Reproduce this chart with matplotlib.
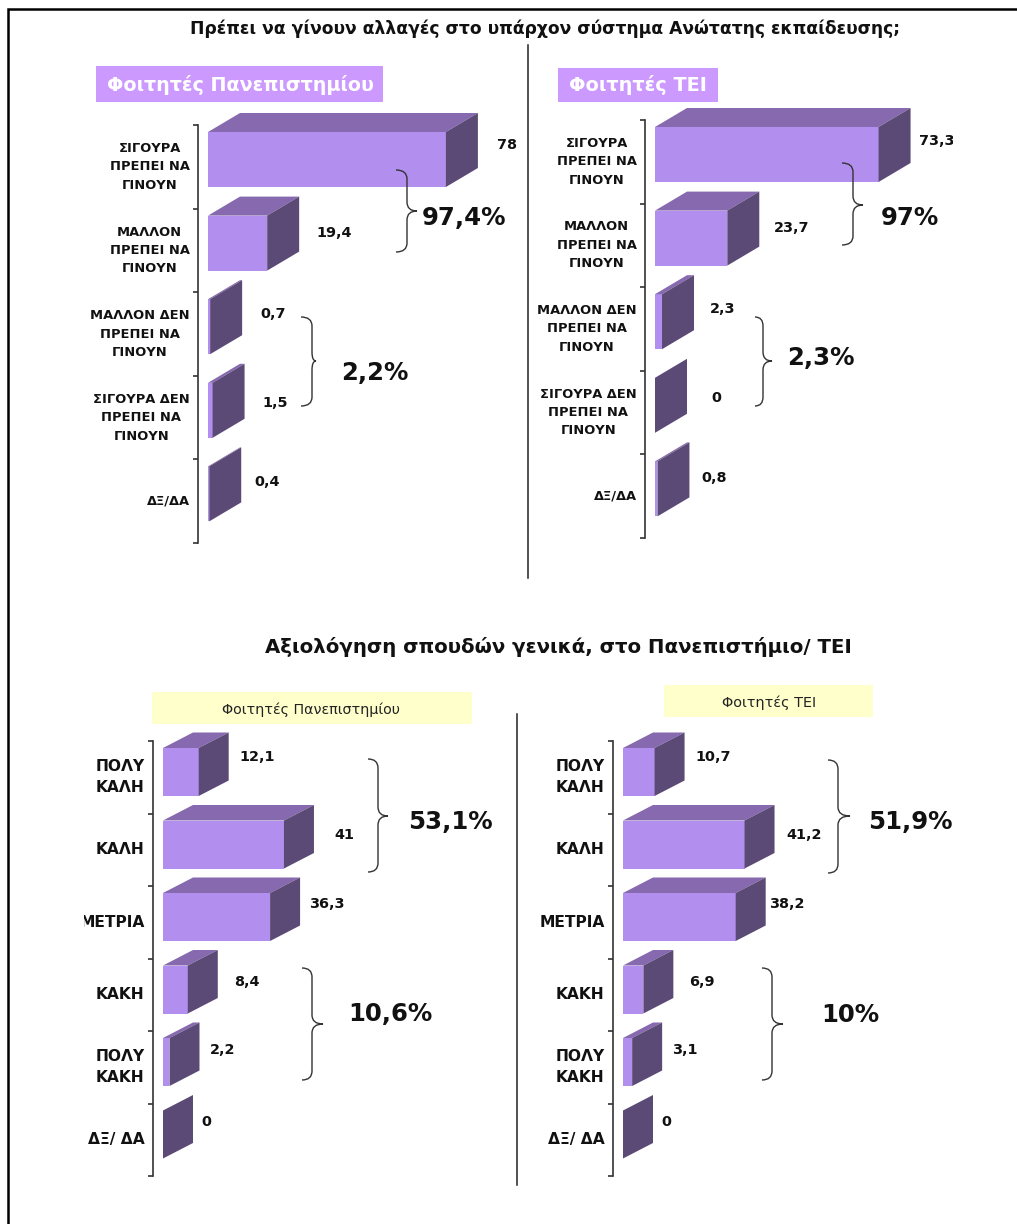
import matplotlib
matplotlib.use("Agg")
import matplotlib.pyplot as plt
from matplotlib.patches import PathPatch, Rectangle
from matplotlib.path import Path
from matplotlib.transforms import Bbox

plt.rcParams["font.family"] = ["DejaVu Sans"]

W, H = 1017, 1224

# STEP 1: data
cats_top_uni = ["ΣΙΓΟΥΡΑ\nΠΡΕΠΕΙ ΝΑ\nΓΙΝΟΥΝ", "ΜΑΛΛΟΝ\nΠΡΕΠΕΙ ΝΑ\nΓΙΝΟΥΝ", "ΜΑΛΛΟΝ ΔΕΝ\nΠΡΕΠΕΙ ΝΑ\nΓΙΝΟΥΝ",
                "ΣΙΓΟΥΡΑ ΔΕΝ\nΠΡΕΠΕΙ ΝΑ\nΓΙΝΟΥΝ", "ΔΞ/ΔΑ"]
cats_bottom = ["ΠΟΛΥ\nΚΑΛΗ", "ΚΑΛΗ", "ΜΕΤΡΙΑ", "ΚΑΚΗ", "ΠΟΛΥ\nΚΑΚΗ", "ΔΞ/ ΔΑ"]

vals_uni_top = [78, 19.4, 0.7, 1.5, 0.4]
vals_tei_top = [73.3, 23.7, 2.3, 0, 0.8]
vals_uni_bottom = [12.1, 41, 36.3, 8.4, 2.2, 0]
vals_tei_bottom = [10.7, 41.2, 38.2, 6.9, 3.1, 0]

title_top = "Πρέπει να γίνουν αλλαγές στο υπάρχον σύστημα Ανώτατης εκπαίδευσης;"
title_bottom = "Αξιολόγηση σπουδών γενικά, στο Πανεπιστήμιο/ ΤΕΙ"
header_uni = "Φοιτητές Πανεπιστημίου"
header_tei = "Φοιτητές ΤΕΙ"

FRONT = "#B28FEE"
TOP = "#8669AF"
SIDE = "#5B4A75"


# STEP 2: one axes per panel, placed in pixels
def panel(spine_x, top_y, bottom_y, scale, xmax, vals, cats, depth, font, spacing, label_pos, clip_x=None):
    offset = 10
    width = offset + scale * xmax
    ax = fig.add_axes([spine_x / W, 1 - bottom_y / H, width / W, (bottom_y - top_y) / H])
    ax.patch.set_visible(False)
    ax.set_xlim(-offset / scale, xmax)
    n = len(vals)
    ax.set_ylim(n, 0)
    for s in ["top", "right", "bottom"]:
        ax.spines[s].set_visible(False)
    ax.spines["left"].set_linewidth(1.2)
    ax.spines["left"].set_color("#333333")
    ax.xaxis.set_visible(False)

    ax.set_yticks(range(n + 1))
    ax.set_yticklabels([])
    ax.tick_params(axis="y", which="major", length=3.8, width=1.2, direction="out", color="#333333")
    ax.set_yticks([i + 0.5 for i in range(n)], minor=True)
    ax.set_yticklabels(cats, minor=True, fontsize=font, fontweight="bold", color="#111111",
                       multialignment="center", linespacing=spacing, va="center")
    ax.tick_params(axis="y", which="minor", length=0, pad=6)
    if clip_x is not None:
        for lab in ax.get_yticklabels(minor=True):
            lab.set_clip_box(Bbox([[clip_x, 0], [W, H]]))
            lab.set_clip_on(True)

    # 3D look: front from barh, top and side shifted by a fixed depth
    px_cat = (bottom_y - top_y) / n
    dx = depth[0] / scale
    dy = depth[1] / px_cat
    gap = 7 / px_cat
    bar_h = depth[2] / px_cat
    for i, v in enumerate(vals):
        y0 = i + gap
        y1 = y0 + bar_h
        ax.barh(y0, v, height=bar_h, align="edge", color=FRONT, edgecolor="none", clip_on=False, zorder=2)
        ax.fill([0, v, v + dx, dx], [y0, y0, y0 - dy, y0 - dy], color=TOP, lw=0, clip_on=False, zorder=2)
        ax.fill([v, v + dx, v + dx, v], [y0, y0 - dy, y1 - dy, y1], color=SIDE, lw=0, clip_on=False, zorder=2)

    # value labels, comma decimals as in the original
    for v, (lx, ly) in zip(vals, label_pos):
        t = ov.text(lx, ly, str(v).replace(".", ","), ha="center", va="center", fontsize=10.4,
                    fontweight="bold", color="#111111")
        if lx > 930:
            t.set_clip_box(Bbox([[0, 0], [953, H]]))
            t.set_clip_on(True)
    return ax


def brace(x_end, x_spine, x_tip, y0, y1, y_tip):
    r = 9
    verts = [(x_end, y0), (x_spine, y0), (x_spine, y0 + r), (x_spine, y_tip - r),
             (x_spine, y_tip), (x_tip, y_tip), (x_spine, y_tip), (x_spine, y_tip + r),
             (x_spine, y1 - r), (x_spine, y1), (x_end, y1)]
    codes = [Path.MOVETO, Path.CURVE3, Path.CURVE3, Path.LINETO, Path.CURVE3, Path.CURVE3,
             Path.CURVE3, Path.CURVE3, Path.LINETO, Path.CURVE3, Path.CURVE3]
    ov.add_patch(PathPatch(Path(verts, codes), fill=False, edgecolor="#333333", lw=1.0))


fig = plt.figure(figsize=(W / 100, H / 100), dpi=100)
fig.patch.set_facecolor("white")

# overlay in pixel coordinates for titles, boxes, braces
ov = fig.add_axes([0, 0, 1, 1], zorder=5)
ov.set_xlim(0, W)
ov.set_ylim(H, 0)
ov.axis("off")
ov.patch.set_visible(False)

# STEP 3: panels
depth_top = (32, 19, 55)
depth_bot = (30, 15.5, 48)
panel(198, 125, 543, 3.05, 80, vals_uni_top, cats_top_uni, depth_top, 9.4, 1.54,
      [(507, 145), (334, 233), (273, 314), (275, 403), (267, 482)])
panel(645, 120, 538, 3.05, 80, vals_tei_top, cats_top_uni, depth_top, 9.4, 1.54,
      [(937, 141), (792, 228), (723, 309), (716, 398), (714, 478)])
panel(153, 741, 1176, 2.95, 45, vals_uni_bottom, cats_bottom, depth_bot, 11.2, 1.53,
      [(257, 757), (344, 835), (327, 904), (247, 982), (223, 1050), (206, 1122)], clip_x=84)
panel(613, 741, 1176, 2.95, 45, vals_tei_bottom, cats_bottom, depth_bot, 11.2, 1.53,
      [(713, 757), (804, 835), (787, 904), (702, 982), (685, 1050), (666, 1122)])

# STEP 4: frame and dividers
ov.plot([8, 8, W], [H, 9, 9], color="black", lw=1.8, solid_joinstyle="miter", solid_capstyle="butt")
ov.plot([528, 528], [45, 578], color="#222222", lw=1.1)
ov.plot([517, 517], [714, 1185], color="#222222", lw=1.1)

# STEP 5: titles and headers
ov.text(545, 29, title_top, ha="center", va="center", fontsize=12.3, fontweight="bold", color="#111111")
ov.text(558, 647, title_bottom, ha="center", va="center", fontsize=14.2, fontweight="bold", color="#111111")

ov.add_patch(Rectangle((96, 66), 287, 36, color="#CC99FF", lw=0))
ov.add_patch(Rectangle((558, 68), 160, 34, color="#CC99FF", lw=0))
ov.text(240, 85, header_uni, ha="center", va="center", fontsize=13.8, fontweight="bold", color="white")
ov.text(638, 85, header_tei, ha="center", va="center", fontsize=13.9, fontweight="bold", color="white")

ov.add_patch(Rectangle((152, 692), 320, 32, color="#FFFFCC", lw=0))
ov.add_patch(Rectangle((664, 685), 209, 32, color="#FFFFCC", lw=0))
ov.text(311, 710, header_uni, ha="center", va="center", fontsize=10.3, color="#222222")
ov.text(769, 703, header_tei, ha="center", va="center", fontsize=10.4, color="#222222")

# STEP 6: braces and group totals
brace(396, 407, 417, 170, 252, 211)
brace(301, 312, 316, 317, 406, 361)
brace(842, 853, 863, 163, 245, 205)
brace(755, 763, 772, 317, 406, 361)
brace(368, 378, 388, 759, 872, 816)
brace(302, 312, 323, 968, 1080, 1024)
brace(828, 838, 850, 760, 873, 816)
brace(762, 772, 783, 968, 1080, 1024)

totals = ["97,4%", "97%", "2,2%", "2,3%", "53,1%", "51,9%", "10,6%", "10%"]
total_pos = [(464, 218), (910, 218), (375, 373), (821, 358), (450, 822), (910, 822), (390, 1014), (850, 1015)]
for txt, (x, y) in zip(totals, total_pos):
    ov.text(x, y, txt, ha="center", va="center", fontsize=17.6, fontweight="bold", color="#111111")

fig.savefig("out.png", dpi=100)
